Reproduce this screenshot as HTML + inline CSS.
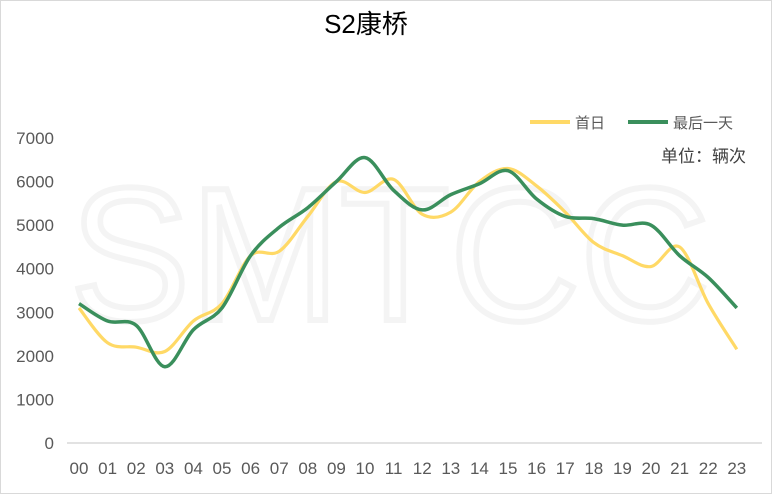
<!DOCTYPE html>
<html><head><meta charset="utf-8"><style>
html,body{margin:0;padding:0;background:#fff}
svg{display:block}
text{font-family:"Liberation Sans","Noto Sans CJK SC",sans-serif}
</style></head><body>
<svg id="s" width="772" height="494" viewBox="0 0 772 494">
<rect x="0.5" y="0.5" width="771" height="493" fill="#fff" stroke="#d9d9d9"/>
<text x="70" y="320" font-size="190" fill="none" stroke="#f4f4f4" stroke-width="6" textLength="640" lengthAdjust="spacingAndGlyphs" font-family="Liberation Sans">SMTCC</text>
<text x="366" y="33" font-size="26" fill="#000" text-anchor="middle">S2康桥</text>
<line x1="67" y1="443" x2="762" y2="443" stroke="#d9d9d9" stroke-width="1.5"/>
<g font-size="17" fill="#595959" text-anchor="end" id="yl"></g>
<g font-size="17" fill="#595959" text-anchor="middle" id="xl"></g>
<line x1="530" y1="122" x2="570" y2="122" stroke="#ffd966" stroke-width="4"/>
<text x="575" y="128" font-size="15" fill="#595959">首日</text>
<line x1="628" y1="122" x2="668" y2="122" stroke="#3a8f5c" stroke-width="4"/>
<text x="673" y="128" font-size="15" fill="#595959">最后一天</text>
<text x="746" y="162" font-size="17" fill="#404040" text-anchor="end">单位：辆次</text>
<path id="py" fill="none" stroke="#ffd966" stroke-width="3.2"/>
<path id="pg" fill="none" stroke="#3a8f5c" stroke-width="3.5"/>
</svg>
<script>
var Y=[3100,2300,2200,2100,2800,3200,4300,4400,5200,6000,5750,6050,5250,5300,6000,6300,5900,5300,4600,4300,4050,4500,3200,2150];
var G=[3200,2800,2700,1750,2600,3100,4300,4950,5400,6000,6550,5800,5350,5700,5950,6250,5600,5200,5150,5000,5000,4300,3800,3100];
function px(i){return 79+i*28.6}function py(v){return 443-v*0.04357}
function path(d){var p=d.map(function(v,i){return[px(i),py(v)]});var s="M"+p[0][0]+","+p[0][1];
for(var i=0;i<p.length-1;i++){var a=p[Math.max(i-1,0)],b=p[i],c=p[i+1],e=p[Math.min(i+2,p.length-1)];
s+=" C"+(b[0]+(c[0]-a[0])/6)+","+(b[1]+(c[1]-a[1])/6)+" "+(c[0]-(e[0]-b[0])/6)+","+(c[1]-(e[1]-b[1])/6)+" "+c[0]+","+c[1];}return s;}
document.getElementById("py").setAttribute("d",path(Y));
document.getElementById("pg").setAttribute("d",path(G));
var ns="http://www.w3.org/2000/svg",yl=document.getElementById("yl"),xl=document.getElementById("xl");
for(var k=0;k<=7;k++){var t=document.createElementNS(ns,"text");t.setAttribute("x",54);t.setAttribute("y",py(k*1000)+6);t.textContent=k*1000;yl.appendChild(t);}
for(var i=0;i<24;i++){var t=document.createElementNS(ns,"text");t.setAttribute("x",px(i));t.setAttribute("y",474);t.textContent=(i<10?"0":"")+i;xl.appendChild(t);}
</script>
</body></html>
